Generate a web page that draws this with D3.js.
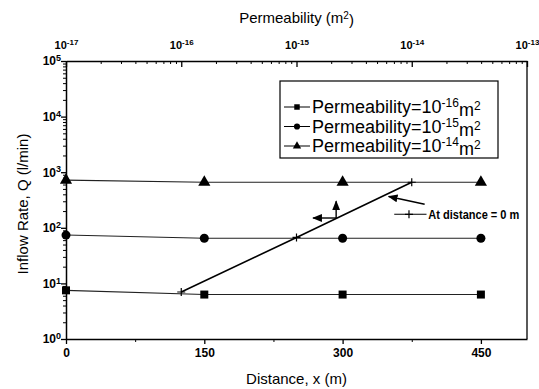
<!DOCTYPE html>
<html>
<head>
<meta charset="utf-8">
<script src="https://cdn.jsdelivr.net/npm/d3@7"></script>
<style>
  body { margin: 0; background: #fff; }
  svg { font-family: "Liberation Sans", Arial, sans-serif; }
  .axis path, .axis line { stroke: #000; }
</style>
</head>
<body>
<div id="chart"></div>
<script>
// Data
var distance = [0, 150, 300, 450];
var q_perm16 = [7.5, 6.3, 6.3, 6.3];
var q_perm15 = [74, 65, 65, 65];
var q_perm14 = [720, 660, 660, 660];
var atZeroPerm = [1e-16, 1e-15, 1e-14];
var atZeroQ = [7.0, 67, 660];
var seriesNames = ["-16", "-15", "-14"];
var xTicks = [0, 150, 300, 450];
var xMinorTicks = [75, 225, 375];
var yTicks = [1, 10, 100, 1000, 10000, 100000];
var permTicks = [1e-17, 1e-16, 1e-15, 1e-14, 1e-13];

var width = 539, height = 389,
    margin = {top: 61, right: 12, bottom: 50, left: 66},
    plotW = width - margin.left - margin.right,
    plotH = height - margin.top - margin.bottom;

var svg = d3.select("#chart").append("svg")
    .attr("width", width)
    .attr("height", height);

var g = svg.append("g")
    .attr("transform", "translate(" + margin.left + "," + margin.top + ")");

var xScale = d3.scaleLinear().domain([0, 500]).range([0, plotW]);
var kScale = d3.scaleLog().domain([1e-17, 1e-13]).range([0, plotW]);
var yScale = d3.scaleLog().domain([1, 1e5]).range([plotH, 0]);

// frame (right side)
g.append("line")
    .attr("x1", plotW).attr("x2", plotW)
    .attr("y1", 0).attr("y2", plotH)
    .attr("stroke", "#000").attr("stroke-width", 1.3);

// superscript helper for 10^n labels
function powLabel(sel, exp, supSize) {
  sel.text(null);
  sel.append("tspan").text("10");
  sel.append("tspan").attr("dy", "-0.45em").attr("font-size", supSize).text(exp);
}

// bottom axis
g.append("g")
    .attr("class", "axis")
    .attr("transform", "translate(0," + plotH + ")")
    .call(d3.axisBottom(xScale).tickValues(xTicks).tickSize(5).tickSizeOuter(0))
    .call(function(a) {
      a.select(".domain").attr("stroke-width", 1.5);
      a.selectAll(".tick line").attr("stroke-width", 1.3);
      a.selectAll(".tick text").attr("font-size", 12).attr("font-weight", "bold").attr("dy", "0.85em");
    });
g.append("g")
    .attr("class", "axis")
    .attr("transform", "translate(0," + plotH + ")")
    .call(d3.axisBottom(xScale).tickValues(xMinorTicks).tickSize(3).tickFormat(""))
    .call(function(a) { a.select(".domain").remove(); });

// left axis
var yMinor = [];
yTicks.slice(0, -1).forEach(function(t) {
  for (var m = 2; m <= 9; m++) yMinor.push(t * m);
});
g.append("g")
    .attr("class", "axis")
    .call(d3.axisLeft(yScale).tickValues(yTicks).tickSize(5).tickSizeOuter(0))
    .call(function(a) {
      a.select(".domain").attr("stroke-width", 1.5);
      a.selectAll(".tick line").attr("stroke-width", 1.3);
      a.selectAll(".tick text").attr("font-size", 12).attr("font-weight", "bold")
        .attr("x", -5)
        .each(function(d) { powLabel(d3.select(this), String(Math.round(Math.log10(d))), 9); });
    });
g.append("g")
    .attr("class", "axis")
    .call(d3.axisLeft(yScale).tickValues(yMinor).tickSize(3).tickFormat(""))
    .call(function(a) { a.select(".domain").remove(); });

// top axis (permeability), ticks point inward
var kMinor = [];
permTicks.slice(0, -1).forEach(function(t) {
  for (var m = 2; m <= 9; m++) kMinor.push(t * m);
});
g.append("g")
    .attr("class", "axis")
    .call(d3.axisTop(kScale).tickValues(permTicks).tickSize(-6).tickSizeOuter(0))
    .call(function(a) {
      a.select(".domain").attr("stroke-width", 1.5);
      a.selectAll(".tick line").attr("stroke-width", 1.3);
      a.selectAll(".tick text").attr("font-size", 11).attr("font-weight", "bold")
        .attr("y", -12)
        .each(function(d) { powLabel(d3.select(this), String(Math.round(Math.log10(d))), 8); });
    });
g.append("g")
    .attr("class", "axis")
    .call(d3.axisTop(kScale).tickValues(kMinor).tickSize(-3).tickFormat(""))
    .call(function(a) { a.select(".domain").remove(); });

// axis titles
svg.append("text")
    .attr("x", margin.left + plotW / 2).attr("y", 23)
    .attr("text-anchor", "middle").attr("font-size", 15)
    .call(function(t) {
      t.append("tspan").text("Permeability (m");
      t.append("tspan").attr("dy", "-0.45em").attr("font-size", 10).text("2");
      t.append("tspan").attr("dy", "0.45em").text(")");
    });

svg.append("text")
    .attr("x", margin.left + plotW / 2).attr("y", 384)
    .attr("text-anchor", "middle").attr("font-size", 15)
    .text("Distance, x (m)");

svg.append("text")
    .attr("transform", "translate(28," + (margin.top + plotH / 2 + 4) + ") rotate(-90)")
    .attr("text-anchor", "middle").attr("font-size", 15)
    .text("Inflow Rate, Q (l/min)");

// series
var series = [
  {values: q_perm16, shape: d3.symbolSquare, size: 64},
  {values: q_perm15, shape: d3.symbolCircle, size: 64},
  {values: q_perm14, shape: d3.symbolTriangle, size: 64}
];

var line = d3.line()
    .x(function(d) { return xScale(d[0]); })
    .y(function(d) { return yScale(d[1]); });

series.forEach(function(s) {
  var pts = distance.map(function(x, i) { return [x, s.values[i]]; });
  g.append("path")
      .attr("d", line(pts))
      .attr("fill", "none").attr("stroke", "#222").attr("stroke-width", 1.1);
  g.selectAll(null)
      .data(pts)
      .enter().append("path")
      .attr("transform", function(d) { return "translate(" + xScale(d[0]) + "," + yScale(d[1]) + ")"; })
      .attr("d", d3.symbol().type(s.shape).size(s.size))
      .attr("fill", "#000");
});

// at distance = 0 m, plotted against permeability
var kLine = d3.line()
    .x(function(d, i) { return kScale(atZeroPerm[i]); })
    .y(function(d) { return yScale(d); });
g.append("path")
    .attr("d", kLine(atZeroQ))
    .attr("fill", "none").attr("stroke", "#000").attr("stroke-width", 1.6);
g.selectAll(null)
    .data(atZeroQ)
    .enter().append("path")
    .attr("transform", function(d, i) { return "translate(" + kScale(atZeroPerm[i]) + "," + yScale(d) + ")"; })
    .attr("d", "M-4,0H4M0,-4V4")
    .attr("stroke", "#000").attr("stroke-width", 1.2);

// arrowheads
svg.append("defs").append("marker")
    .attr("id", "arrow")
    .attr("viewBox", "0 0 10 10").attr("refX", 9).attr("refY", 5)
    .attr("markerWidth", 7).attr("markerHeight", 7)
    .attr("orient", "auto")
  .append("path").attr("d", "M0,1L10,5L0,9z").attr("fill", "#000");

// axis-direction arrows near the curve
var corner = [293, 150];
g.append("line")
    .attr("x1", xScale(corner[0])).attr("y1", yScale(corner[1]))
    .attr("x2", xScale(corner[0])).attr("y2", yScale(300))
    .attr("stroke", "#000").attr("stroke-width", 1.4).attr("marker-end", "url(#arrow)");
g.append("line")
    .attr("x1", xScale(corner[0])).attr("y1", yScale(corner[1]))
    .attr("x2", xScale(268)).attr("y2", yScale(corner[1]))
    .attr("stroke", "#000").attr("stroke-width", 1.4).attr("marker-end", "url(#arrow)");

// pointer arrow to the curve
g.append("line")
    .attr("x1", xScale(389)).attr("y1", yScale(265))
    .attr("x2", xScale(350)).attr("y2", yScale(365))
    .attr("stroke", "#000").attr("stroke-width", 1.4).attr("marker-end", "url(#arrow)");

// label for the curve
var labY = yScale(175);
g.append("line")
    .attr("x1", xScale(356)).attr("x2", xScale(391))
    .attr("y1", labY).attr("y2", labY)
    .attr("stroke", "#000").attr("stroke-width", 1.1);
g.append("path")
    .attr("transform", "translate(" + xScale(372) + "," + labY + ")")
    .attr("d", "M-4,0H4M0,-4V4")
    .attr("stroke", "#000").attr("stroke-width", 1.2);
g.append("text")
    .attr("x", xScale(393)).attr("y", labY + 5)
    .attr("font-size", 13).attr("font-weight", "bold")
    .attr("textLength", 91).attr("lengthAdjust", "spacingAndGlyphs")
    .text("At distance = 0 m");

// legend
var legend = svg.append("g").attr("transform", "translate(280,81)");
legend.append("rect")
    .attr("width", 218).attr("height", 77)
    .attr("fill", "#fff").attr("stroke", "#000").attr("stroke-width", 1.2);
series.forEach(function(s, i) {
  var row = legend.append("g").attr("transform", "translate(0," + (26 + i * 19.5) + ")");
  row.append("line").attr("x1", 4).attr("x2", 30).attr("stroke", "#000").attr("stroke-width", 1);
  row.append("path").attr("transform", "translate(17,0)")
      .attr("d", d3.symbol().type(s.shape).size(30)).attr("fill", "#000");
  row.append("text")
      .attr("x", 32).attr("y", 6).attr("font-size", 18)
      .call(function(t) {
        t.append("tspan").text("Permeability=10");
        t.append("tspan").attr("dy", "-0.5em").attr("font-size", 12).text(seriesNames[i]);
        t.append("tspan").attr("dy", "0.5em").text("m");
        t.append("tspan").attr("dy", "-0.5em").attr("font-size", 12).text("2");
      });
});
</script>
</body>
</html>
